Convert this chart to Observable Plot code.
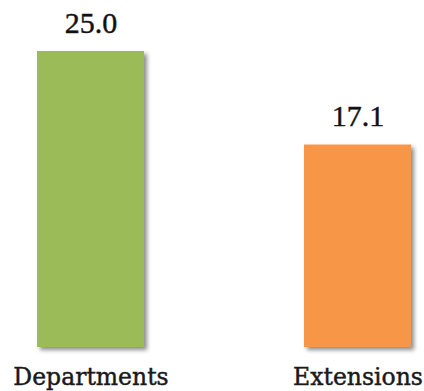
<!DOCTYPE html>
<html>
<head>
<meta charset="utf-8">
<script src="https://cdn.jsdelivr.net/npm/d3@7"></script>
<script src="https://cdn.jsdelivr.net/npm/@observablehq/plot@0.6"></script>
<style>
  html, body { margin: 0; padding: 0; background: #fff; }
</style>
</head>
<body>
<div id="chart"></div>
<script>
// Average value per unit type
const categories = ["Departments", "Extensions"];
const values = [25.0, 17.1];
const colors = ["#9BBB59", "#F79646"];

const data = categories.map((c, i) => ({category: c, value: values[i], color: colors[i]}));

const chart = Plot.plot({
  width: 424,
  height: 391,
  marginLeft: 37,
  marginRight: 13,
  marginTop: 51,
  marginBottom: 44,
  style: {fontFamily: "'Liberation Serif', serif", background: "#fff"},
  x: {domain: categories, paddingInner: 0.6, paddingOuter: 0, label: null},
  y: {domain: [0, 25], axis: null},
  marks: [
    Plot.barY(data, {x: "category", y: "value", fill: "color"}),
    Plot.text(data, {
      x: "category", y: "value", text: d => d.value.toFixed(1),
      lineAnchor: "bottom", dy: -19, fontSize: 30, fill: "#111"
    }),
    Plot.axisX({tickSize: 0, tickPadding: 21, fontSize: 23.5, fontFamily: "'DejaVu Serif', serif", color: "#1a1a1a"})
  ]
});

const svg = d3.select(chart);

// slightly heavier lettering
svg.selectAll("text").attr("stroke", "#1a1a1a").attr("stroke-width", 0.45);

// soft drop shadow under the bars
const defs = svg.insert("defs", ":first-child");
const f = defs.append("filter").attr("id", "barShadow")
  .attr("x", "-10%").attr("y", "-10%").attr("width", "130%").attr("height", "130%");
f.append("feDropShadow").attr("dx", 3).attr("dy", 3).attr("stdDeviation", 2.2)
  .attr("flood-color", "#000").attr("flood-opacity", 0.45);
svg.selectAll("g[aria-label='bar'] rect").attr("filter", "url(#barShadow)");

document.getElementById("chart").appendChild(chart);
</script>
</body>
</html>
